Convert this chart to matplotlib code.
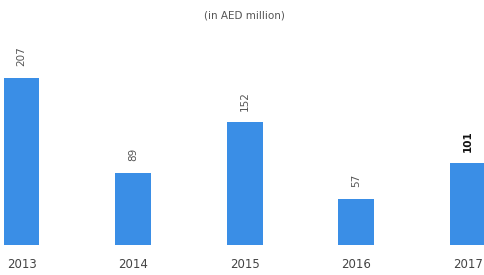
import matplotlib
matplotlib.use("Agg")
import matplotlib.pyplot as plt

years = ["2013", "2014", "2015", "2016", "2017"]
values = [207, 89, 152, 57, 101]
title = "(in AED million)"

fig = plt.figure(figsize=(4.85, 2.75), dpi=100)
ax = fig.add_axes([0, 0, 1, 1])
x = list(range(len(years)))
bars = ax.bar(x, values, width=0.32, color="#3a8ee6")

ax.set_xlim(-0.193, 4.153)
ax.set_ylim(-37.2, 303.6)

for i, (xi, v) in enumerate(zip(x, values)):
    last = i == len(values) - 1
    ax.annotate(str(v), (xi, v), xytext=(0, 8.5), textcoords="offset points",
                rotation=90, ha="center", va="bottom", fontsize=7.5,
                color="#111111" if last else "#555555",
                fontweight="bold" if last else "normal")
    ax.annotate(years[i], (xi, 0), xytext=(0, -14), textcoords="offset points",
                ha="center", va="center", fontsize=8.5, color="#444444")

fig.text(0.503, 0.945, title, ha="center", va="center", fontsize=7.5, color="#555555")
ax.axis("off")
fig.savefig("out.png", dpi=100)
